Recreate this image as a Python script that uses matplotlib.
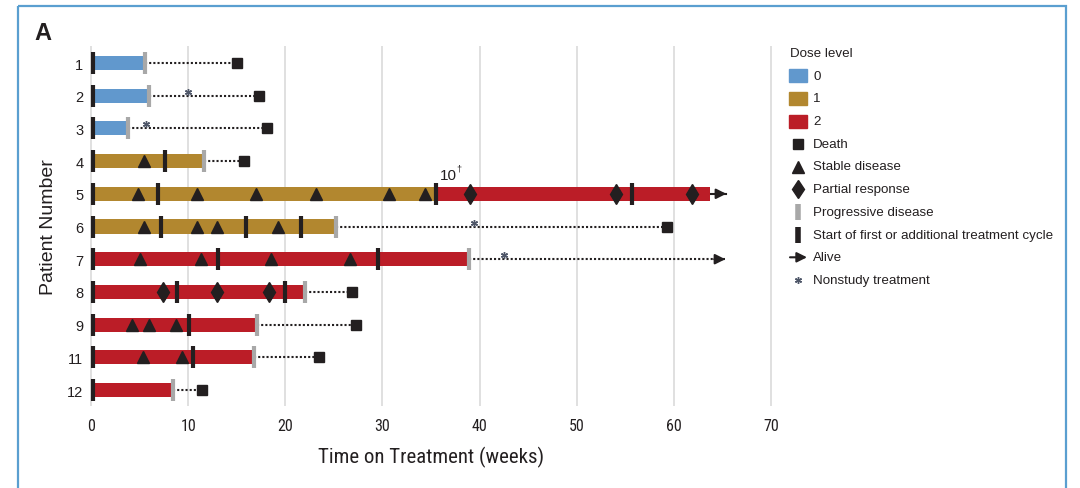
import matplotlib
matplotlib.use('Agg')
import matplotlib.pyplot as plt
from matplotlib.patches import Rectangle
import matplotlib.transforms as mtransforms

# ---------------- data (weeks) ----------------
patients = ['1', '2', '3', '4', '5', '6', '7', '8', '9', '11', '12']
bar_start = [0.2, 0.2, 0.2, 0.2, 0.2, 0.2, 0.2, 0.2, 0.2, 0.2, 0.2]
bar_end = [5.6, 6.0, 3.8, 11.6, 63.7, 25.2, 38.9, 22.0, 17.05, 16.75, 8.45]
dose_level = [0, 0, 0, 1, 1, 1, 2, 2, 2, 2, 2]

# dose escalation of patient 5
escalation_patient = '5'
escalation_week = 35.5
escalation_dose = 2
escalation_label = '10'

cycle_starts = {
    '1': [0.2], '2': [0.2], '3': [0.2], '4': [0.2, 7.65],
    '5': [0.2, 6.9, 35.5, 55.7], '6': [0.2, 7.2, 16.0, 21.65],
    '7': [0.2, 13.1, 29.5], '8': [0.2, 8.9, 20.0], '9': [0.2, 10.05],
    '11': [0.2, 10.5], '12': [0.2],
}
stable_disease = {
    '4': [5.5], '5': [4.8, 10.95, 16.95, 23.2, 30.7, 34.4],
    '6': [5.5, 10.9, 13.0, 19.3], '7': [5.0, 11.3, 18.5, 26.7],
    '9': [4.25, 6.0, 8.8], '11': [5.4, 9.4],
}
partial_response = {'5': [39.0, 54.0, 61.9], '8': [7.4, 13.0, 18.3]}
progressive_disease = {
    '1': 5.6, '2': 6.0, '3': 3.8, '4': 11.6, '6': 25.2, '7': 38.9,
    '8': 22.0, '9': 17.05, '11': 16.75, '12': 8.45,
}
death = {'1': 15.0, '2': 17.3, '3': 18.1, '4': 15.8, '6': 59.3,
         '8': 26.9, '9': 27.3, '11': 23.5, '12': 11.4}
alive = {'5': 65.4, '7': 65.3}
still_on_treatment = ['5']
nonstudy_treatment = {'2': 9.95, '3': 5.7, '6': 39.4, '7': 42.5}

dose_colors = ['#6198cd', '#b2872f', '#bb1d27']
dose_labels = ['0', '1', '2']
xticks = [0, 10, 20, 30, 40, 50, 60, 70]

DARK = '#231f20'
GREY = '#a8a8a8'
AST = '#4e5668'

# ---------------- figure ----------------
W, H = 1080, 489
fig = plt.figure(figsize=(W / 100, H / 100), dpi=100)

narrow = ['Liberation Sans Narrow', 'Roboto Condensed', 'Liberation Sans', 'DejaVu Sans']
sans = ['Liberation Sans', 'DejaVu Sans']

ax_l = 86.14 / W
ax_w = 689.7 / W
ax_top = 47
ax_h = 359.7
ax = fig.add_axes([ax_l, 1 - (ax_top + ax_h) / H, ax_w, ax_h / H])
ax.set_xlim(-0.5, 70.5)
ax.set_ylim(10.48, -0.52)
for s in ax.spines.values():
    s.set_visible(False)
ax.set_xticks(xticks)
ax.set_xticklabels([str(t) for t in xticks], fontfamily=narrow, fontsize=11.5, color='#231f20')
ax.set_yticks(range(len(patients)))
ax.set_yticklabels(patients, fontfamily=sans, fontsize=10.5, color='#231f20')
ax.tick_params(axis='both', length=0)
ax.tick_params(axis='x', pad=9)
ax.tick_params(axis='y', pad=2)
ax.grid(axis='x', color='#dddddd', lw=1.3, zorder=0)
ax.set_axisbelow(True)
ax.set_xlabel('Time on Treatment (weeks)', fontfamily=narrow, fontsize=15,
              color='#231f20', labelpad=9)
ax.set_ylabel('Patient Number', fontfamily=sans, fontsize=14, color='#231f20', labelpad=7)

ypos = {p: i for i, p in enumerate(patients)}
bar_h = 0.43
lw_dot = 1.5
dot_style = (0, (1, 1))
arrow_style = '-|>,head_length=0.6,head_width=0.3'

# bars
for i, p in enumerate(patients):
    start, end, d = bar_start[i], bar_end[i], dose_level[i]
    if p == escalation_patient:
        ax.barh(i, escalation_week - start, left=start, height=bar_h,
                color=dose_colors[d], zorder=2)
        ax.barh(i, end - escalation_week, left=escalation_week, height=bar_h,
                color=dose_colors[escalation_dose], zorder=2)
    else:
        ax.barh(i, end - start, left=start, height=bar_h, color=dose_colors[d], zorder=2)

# follow-up lines
for i, p in enumerate(patients):
    end = bar_end[i]
    if p in death:
        ax.plot([end, death[p]], [i, i], color=DARK, lw=lw_dot, ls=dot_style,
                zorder=1, dash_capstyle='butt')
    if p in alive:
        ls = '-' if p in still_on_treatment else dot_style
        ax.plot([end, alive[p]], [i, i], color=DARK, lw=lw_dot, ls=ls, zorder=1)
        ax.annotate('', xy=(alive[p], i), xytext=(-8, 0), textcoords='offset points',
                    arrowprops=dict(arrowstyle=arrow_style, color=DARK, lw=1.5,
                                    shrinkA=0, shrinkB=0),
                    zorder=4)

# markers
for p, xs in stable_disease.items():
    ax.plot(xs, [ypos[p]] * len(xs), ls='none', marker='^', ms=9.2, color=DARK, zorder=4)
for p, xs in partial_response.items():
    ax.plot(xs, [ypos[p]] * len(xs), ls='none', marker='d', ms=9.8, color=DARK, zorder=4)
for p, x in progressive_disease.items():
    ax.plot([x], [ypos[p]], ls='none', marker='|', ms=16, mew=3, color=GREY, zorder=5)
for p, xs in cycle_starts.items():
    ax.plot(xs, [ypos[p]] * len(xs), ls='none', marker='|', ms=16, mew=3, color=DARK, zorder=5)
for p, x in death.items():
    ax.plot([x], [ypos[p]], ls='none', marker='s', ms=7.8, color=DARK, zorder=5)
ast_tr = ax.transData + mtransforms.ScaledTranslation(0, 4 / 100, fig.dpi_scale_trans)
for p, x in nonstudy_treatment.items():
    ax.plot([x], [ypos[p]], ls='none', marker=(6, 2, 0), ms=5, mew=1.0, color=AST,
            zorder=6, transform=ast_tr)

# escalation label
ax.annotate(escalation_label, xy=(escalation_week, ypos[escalation_patient]),
            xytext=(3, 8.5), textcoords='offset points', fontsize=11,
            fontfamily=sans, color=DARK, ha='left', va='bottom')
ax.annotate('\u2020', xy=(escalation_week, ypos[escalation_patient]),
            xytext=(14.5, 15.5), textcoords='offset points', fontsize=6.5,
            fontfamily=sans, color=DARK, ha='left', va='bottom')

# ---------------- overlay: legend, panel letter, frame ----------------
ov = fig.add_axes([0, 0, 1, 1], facecolor='none')
ov.set_xlim(0, W)
ov.set_ylim(H, 0)
ov.axis('off')

ov.add_patch(Rectangle((18, 7), 1048, 500, fill=False, ec='#5a9fd0', lw=1.6))
ov.text(34, 34, 'A', fontsize=17, fontweight='bold', fontfamily=sans, color=DARK,
        va='center', ha='left')

lx_mark = 798
lx_text = 813
fs_leg = 9.6
ov.text(790, 54, 'Dose level', fontsize=fs_leg, fontfamily=sans, color=DARK, va='center')
leg_y0 = 76.7
leg_dy = 22.7
for k, (c, lab) in enumerate(zip(dose_colors, dose_labels)):
    y = leg_y0 + k * leg_dy
    ov.add_patch(Rectangle((789, y - 6.5), 18, 13, color=c))
    ov.text(lx_text, y, lab, fontsize=fs_leg, fontfamily=sans, color=DARK, va='center')

sym_labels = ['Death', 'Stable disease', 'Partial response', 'Progressive disease',
              'Start of first or additional treatment cycle', 'Alive', 'Nonstudy treatment']
for k, lab in enumerate(sym_labels):
    y = leg_y0 + (k + 3) * leg_dy
    ov.text(lx_text, y, lab, fontsize=fs_leg, fontfamily=sans, color=DARK, va='center')
    if lab == 'Death':
        ov.plot([lx_mark], [y], marker='s', ms=7, color=DARK, ls='none')
    elif lab == 'Stable disease':
        ov.plot([lx_mark], [y], marker='^', ms=9.2, color=DARK, ls='none')
    elif lab == 'Partial response':
        ov.plot([lx_mark], [y], marker='d', ms=9.4, color=DARK, ls='none')
    elif lab == 'Progressive disease':
        ov.plot([lx_mark], [y], marker='|', ms=11.5, mew=4, color=GREY, ls='none')
    elif lab.startswith('Start'):
        ov.plot([lx_mark], [y], marker='|', ms=11.5, mew=4, color=DARK, ls='none')
    elif lab == 'Alive':
        ov.annotate('', xy=(807, y), xytext=(790, y),
                    arrowprops=dict(arrowstyle=arrow_style, color=DARK, lw=1.5,
                                    shrinkA=0, shrinkB=0))
    else:
        ov.plot([lx_mark], [y], marker=(6, 2, 0), ms=5, mew=1.0, color=AST, ls='none')

fig.savefig('out.png', dpi=100)
